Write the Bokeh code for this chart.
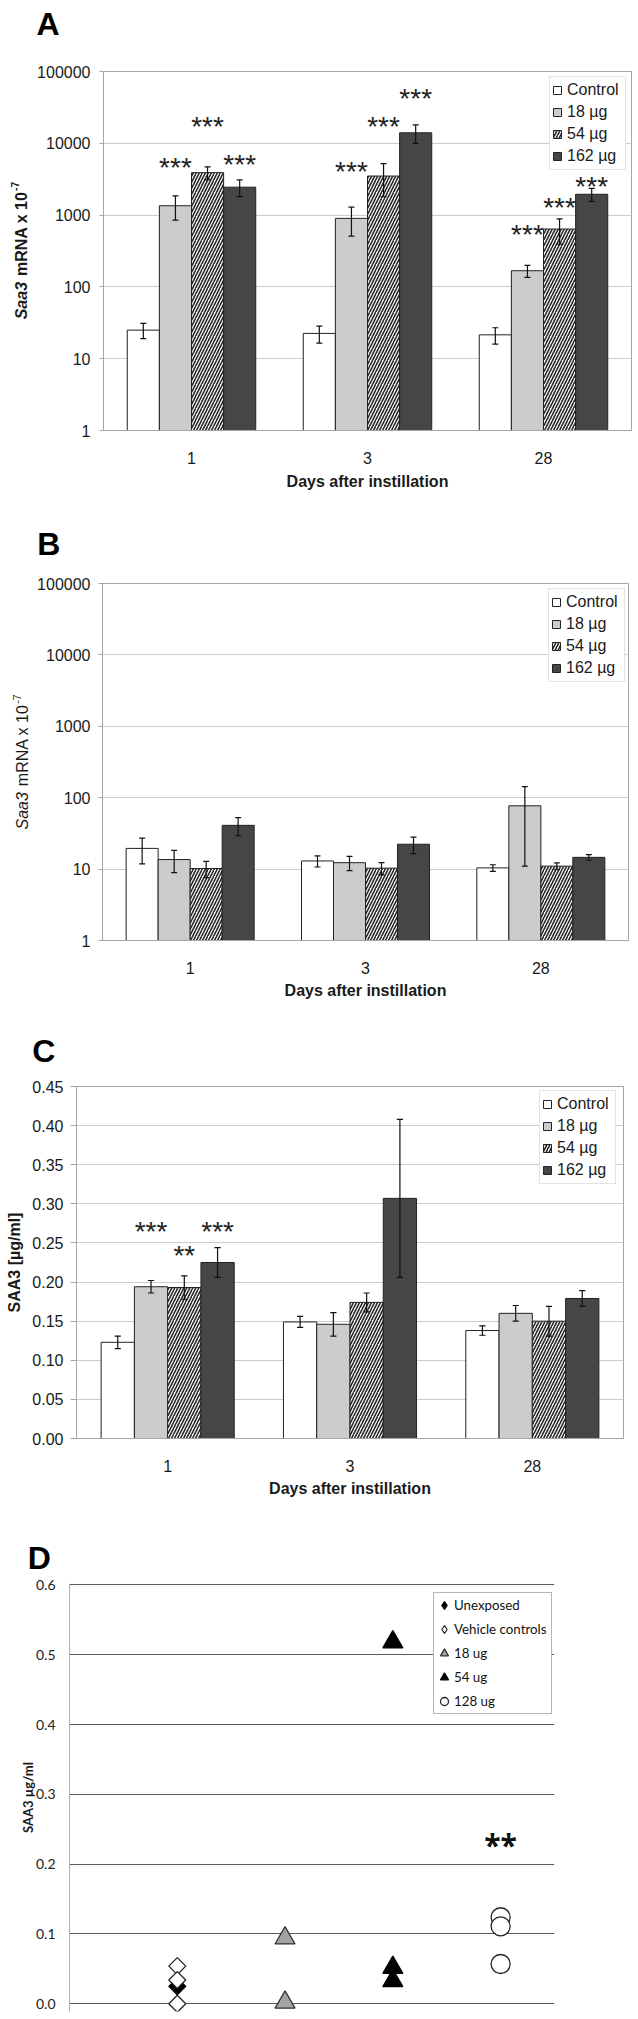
import math
from bokeh.plotting import figure
from bokeh.models import (ColumnDataSource, FactorRange, Range1d, FixedTicker,
                          NumeralTickFormatter, Legend, LegendItem, Label)
from bokeh.transform import dodge
from bokeh.layouts import column, row
from bokeh.core.properties import value
from bokeh.embed import file_html
from bokeh.resources import INLINE

# ---------------- data ----------------
days = ["1", "3", "28"]
groups = ["Control", "18 µg", "54 µg", "162 µg"]

# Panel A : Saa3 mRNA x 10^-7 (log scale)
a_control = [25, 22.5, 21.5]
a_18 = [1350, 900, 168]
a_54 = [3900, 3500, 640]
a_162 = [2450, 14000, 1950]
a_control_err = [6, 6, 5.5]
a_18_err = [500, 390, 32]
a_54_err = [800, 1700, 245]
a_162_err = [640, 4000, 400]
a_sig_day = ["1", "1", "1", "3", "3", "3", "28", "28", "28"]
a_sig_group = ["18 µg", "54 µg", "162 µg"] * 3
a_sig_text = ["***"] * 9
a_sig_y = [4560, 16980, 5070, 4090, 17320, 42000, 537, 1265, 2530]

# Panel B : Saa3 mRNA x 10^-7 (log scale)
b_control = [19.5, 13, 10.4]
b_18 = [13.6, 12.3, 77]
b_54 = [10.2, 10.3, 11]
b_162 = [41, 22.3, 14.6]
b_control_err = [7.7, 2.3, 1.1]
b_18_err = [4.7, 2.8, 66]
b_54_err = [2.6, 2.0, 1.2]
b_162_err = [11.5, 5.8, 1.3]

# Panel C : SAA3 [µg/ml]
c_control = [0.123, 0.149, 0.138]
c_18 = [0.194, 0.146, 0.160]
c_54 = [0.193, 0.174, 0.150]
c_162 = [0.225, 0.307, 0.179]
c_control_err = [0.008, 0.007, 0.006]
c_18_err = [0.008, 0.015, 0.010]
c_54_err = [0.015, 0.012, 0.019]
c_162_err = [0.019, 0.101, 0.010]
c_sig_day = ["1", "1", "1"]
c_sig_group = ["18 µg", "54 µg", "162 µg"]
c_sig_text = ["***", "**", "***"]
c_sig_y = [0.264, 0.234, 0.264]

log_ticks = [1, 10, 100, 1000, 10000, 100000]
c_ticks = [0.00, 0.05, 0.10, 0.15, 0.20, 0.25, 0.30, 0.35, 0.40, 0.45]

# Panel D : SAA3 µg/ml, individual animals
d_series = ["Unexposed", "Vehicle controls", "18 ug", "54 ug", "128 ug"]
d_pos = [1, 1, 2, 3, 4]
d_unexposed = [0.025]
d_vehicle = [0.054, 0.034, 0.0]
d_18 = [0.094, 0.002]
d_54 = [0.518, 0.052, 0.033]
d_128 = [0.124, 0.111, 0.057]
d_sig_pos = [4]
d_sig_text = ["**"]
d_sig_y = [0.228]
d_ticks = [0.0, 0.1, 0.2, 0.3, 0.4, 0.5, 0.6]

# ---------------- style ----------------
FONT = "Liberation Sans"
DFONT = "Lato"
TXT = "#1a1a1a"
AX = "#a6a6a6"
GRID = "#cbcbcb"
BAR_W = 0.1825
OFFS = [(-1.5 + i) * BAR_W for i in range(4)]
CAP = 0.017
FILLS = ["#ffffff", "#cccccc", "#ffffff", "#464646"]

W_REG = {'S': .667, 'a': .556, '3': .556, ' ': .278, 'm': .833, 'R': .722, 'N': .722,
         'A': .667, 'x': .5, '1': .556, '0': .556, '-': .333, '7': .556}
W_BOLD = {'S': .667, 'a': .556, '3': .556, ' ': .278, 'm': .889, 'R': .722, 'N': .722,
          'A': .722, 'x': .556, '1': .556, '0': .556, '-': .333, '7': .556}


def text_w(t, size, bold):
    tab = W_BOLD if bold else W_REG
    return sum(tab.get(c, .556) for c in t) * size


def blank(w, h):
    f = figure(width=w, height=h, title=None, x_range=Range1d(0, 1), y_range=Range1d(0, 1),
               x_axis_location=None, y_axis_location=None, min_border=0,
               output_backend="svg", toolbar_location=None)
    f.outline_line_color = None
    f.grid.visible = False
    f.frame_align = False
    return f


def header(letter, h, x, y):
    f = blank(638, h)
    f.add_layout(Label(x=x, y=y, x_units="screen", y_units="screen", text=letter,
                       text_font=FONT, text_font_style="bold", text_font_size="32px",
                       text_color="#000000", text_align="left", text_baseline="alphabetic"))
    return f


def saa3_side(w, h, x, center, bold):
    f = blank(w, h)
    st = "bold" if bold else "normal"
    # (text, style, size, shift across, gap after)
    parts = [("Saa3", ("bold italic" if bold else "italic"), 16, 0, 6),
             ("mRNA x 10", st, 16, 0, 0.5),
             ("-7", st, 10.5, -6, 0)]
    widths = [text_w(t, s, bold) + gap for t, _, s, _, gap in parts]
    y = center - sum(widths) / 2
    for (t, style, s, shift, _), wd in zip(parts, widths):
        f.add_layout(Label(x=x + shift, y=y, x_units="screen", y_units="screen", text=t,
                           angle=math.pi / 2, text_align="left", text_baseline="middle",
                           text_font=FONT, text_font_style=style, text_font_size=f"{s}px",
                           text_color=TXT))
        y += wd
    return f


def bar_panel(w, h, border, means, errs, y_type, y_rng, y_ticks, fmt, tick_out, lbl_standoff,
              leg_loc, x_title_standoff, sig=None):
    p = figure(width=w, height=h, title=None, x_range=FactorRange(factors=days),
               y_range=Range1d(*y_rng), y_axis_type=y_type,
               output_backend="svg", toolbar_location=None)
    p.frame_align = False
    p.min_border_left, p.min_border_right, p.min_border_top, p.min_border_bottom = border
    p.background_fill_color = "white"
    p.border_fill_color = "white"
    p.outline_line_color = AX
    p.xgrid.grid_line_color = None
    p.ygrid.grid_line_color = GRID
    p.ygrid.grid_line_width = 1

    items = []
    for g in range(4):
        up = [m + e for m, e in zip(means[g], errs[g])]
        lo = [m - e for m, e in zip(means[g], errs[g])]
        src = ColumnDataSource(dict(day=days, top=means[g], upper=up, lower=lo))
        extra = {}
        if g == 2:
            extra = dict(hatch_pattern="/", hatch_color="#262626", hatch_scale=6,
                         hatch_weight=1.6)
        r = p.vbar(x=dodge("day", OFFS[g], range=p.x_range), top="top", bottom=y_rng[0],
                   width=BAR_W, source=src, fill_color=FILLS[g], line_color="#222222",
                   line_width=1, **extra)
        p.segment(x0=dodge("day", OFFS[g], range=p.x_range), y0="lower",
                  x1=dodge("day", OFFS[g], range=p.x_range), y1="upper",
                  source=src, line_color="#111111", line_width=1.2)
        for end in ("upper", "lower"):
            p.segment(x0=dodge("day", OFFS[g] - CAP, range=p.x_range), y0=end,
                      x1=dodge("day", OFFS[g] + CAP, range=p.x_range), y1=end,
                      source=src, line_color="#111111", line_width=1.2)
        items.append(LegendItem(label=groups[g], renderers=[r]))

    if sig is not None:
        s_day, s_group, s_text, s_y = sig
        for g in range(4):
            idx = [i for i, gg in enumerate(s_group) if gg == groups[g]]
            if not idx:
                continue
            ss = ColumnDataSource(dict(day=[s_day[i] for i in idx], y=[s_y[i] for i in idx],
                                       t=[s_text[i] for i in idx]))
            p.text(x=dodge("day", OFFS[g], range=p.x_range), y="y", text="t", source=ss,
                   text_font=value(FONT), text_font_size="28px", text_align="center",
                   text_baseline="alphabetic", text_color="#222222")

    leg = Legend(items=items, location=leg_loc, orientation="vertical",
                 label_text_font=FONT, label_text_font_size="16px", label_text_color=TXT,
                 label_height=22, label_width=56, glyph_width=10, glyph_height=10,
                 label_standoff=5, padding=2, spacing=0, margin=0,
                 border_line_color="#c8c8c8", border_line_width=1,
                 background_fill_color="white", background_fill_alpha=1)
    p.add_layout(leg)

    ya = p.yaxis[0]
    ya.ticker = FixedTicker(ticks=y_ticks)
    ya.formatter = NumeralTickFormatter(format=fmt)
    ya.major_tick_out = tick_out
    ya.major_tick_in = 0
    ya.minor_tick_line_color = None
    ya.major_tick_line_color = AX
    ya.axis_line_color = AX
    ya.major_label_standoff = lbl_standoff
    ya.major_label_text_font = FONT
    ya.major_label_text_font_size = "16px"
    ya.major_label_text_color = TXT

    xa = p.xaxis[0]
    xa.major_tick_line_color = None
    xa.axis_line_color = AX
    xa.major_label_standoff = 15
    xa.major_label_text_font = FONT
    xa.major_label_text_font_size = "16px"
    xa.major_label_text_color = TXT
    xa.axis_label = "Days after instillation"
    xa.axis_label_text_font = FONT
    xa.axis_label_text_font_size = "16px"
    xa.axis_label_text_font_style = "bold"
    xa.axis_label_text_color = TXT
    xa.axis_label_standoff = x_title_standoff
    return p


# ---------------- Panel A ----------------
hA = header("A", 48, 36, 25)
sA = saa3_side(34, 472, 20.5, 270, True)
pA = bar_panel(604, 472, (66, 7, 23, 90),
               [a_control, a_18, a_54, a_162], [a_control_err, a_18_err, a_54_err, a_162_err],
               "log", (1, 100000), log_ticks, "0", 4, 9, (446, 260), 6,
               sig=(a_sig_day, a_sig_group, a_sig_text, a_sig_y))

# ---------------- Panel B ----------------
hB = header("B", 44, 36.7, 21)
sB = saa3_side(34, 466, 22, 268.5, False)
pB = bar_panel(604, 466, (67, 10, 19, 90),
               [b_control, b_18, b_54, b_162], [b_control_err, b_18_err, b_54_err, b_162_err],
               "log", (1, 100000), log_ticks, "0", 4, 8, (446, 258), 5)

# ---------------- Panel C ----------------
hC = header("C", 44, 31.7, 23.5)
pC = bar_panel(638, 446, (76, 15, 12, 82),
               [c_control, c_18, c_54, c_162], [c_control_err, c_18_err, c_54_err, c_162_err],
               "linear", (0, 0.45), c_ticks, "0.00", 6, 7, (463, 254), 5,
               sig=(c_sig_day, c_sig_group, c_sig_text, c_sig_y))
pC.yaxis.axis_label = "SAA3 [µg/ml]"
pC.yaxis.axis_label_text_font = FONT
pC.yaxis.axis_label_text_font_style = "bold"
pC.yaxis.axis_label_text_font_size = "16px"
pC.yaxis.axis_label_text_color = TXT
pC.yaxis.axis_label_standoff = 6

# ---------------- Panel D ----------------
hD = header("D", 54, 27.2, 17)
pD = figure(width=638, height=441, title=None, x_range=Range1d(0, 4.5),
            y_range=Range1d(-0.011, 0.602), x_axis_location=None,
            output_backend="svg", toolbar_location=None)
pD.frame_align = False
pD.min_border_left, pD.min_border_right, pD.min_border_top, pD.min_border_bottom = (69, 84, 9, 4)
pD.outline_line_color = None
pD.xgrid.grid_line_color = None
pD.ygrid.grid_line_color = "#5a5a5a"
pD.ygrid.grid_line_width = 1.2
yd = pD.yaxis[0]
yd.ticker = FixedTicker(ticks=d_ticks)
yd.formatter = NumeralTickFormatter(format="0.0")
yd.major_tick_line_color = None
yd.minor_tick_line_color = None
yd.major_tick_out = 0
yd.major_tick_in = 0
yd.axis_line_color = "#b4b4b4"
yd.major_label_standoff = 14
yd.major_label_text_font = DFONT
yd.major_label_text_font_size = "14px"
yd.major_label_text_color = "#222222"
yd.axis_label = "SAA3 µg/ml"
yd.axis_label_text_font = DFONT
yd.axis_label_text_font_style = "bold"
yd.axis_label_text_font_size = "13px"
yd.axis_label_text_color = TXT
yd.axis_label_standoff = -3

d_vals = [d_unexposed, d_vehicle, d_18, d_54, d_128]
d_style = [
    dict(marker="square", angle=math.pi / 4, size=12, fill_color="#000000", line_color="#000000"),
    dict(marker="square", angle=math.pi / 4, size=12, fill_color="#ffffff", line_color="#222222"),
    dict(marker="triangle", size=20, fill_color="#a3a3a3", line_color="#333333"),
    dict(marker="triangle", size=20, fill_color="#000000", line_color="#000000"),
    dict(marker="circle", size=19, fill_color="#ffffff", line_color="#222222"),
]
# upright diamond swatches for the key (hidden renderers on the same data)
d_key = [
    dict(marker="diamond", fill_color="#000000", line_color="#000000"),
    dict(marker="diamond", fill_color="#ffffff", line_color="#222222"),
    None, None, None,
]
d_items = []
for name, pos, vals, st, key in zip(d_series, d_pos, d_vals, d_style, d_key):
    src = ColumnDataSource(dict(x=[pos] * len(vals), y=vals))
    r = pD.scatter(x="x", y="y", source=src, line_width=1.3, **st)
    if key is not None:
        kr = pD.scatter(x="x", y="y", source=src, line_width=1.2, size=12, visible=False, **key)
        d_items.append(LegendItem(label=name, renderers=[kr]))
    else:
        d_items.append(LegendItem(label=name, renderers=[r]))

pD.text(x=d_sig_pos, y=d_sig_y, text=d_sig_text, text_font=value("Open Sans"),
        text_font_style="bold", text_font_size="30px", text_align="center",
        text_baseline="alphabetic", text_color="#111111")

legD = Legend(items=d_items, location=(364, 297), orientation="vertical",
              label_text_font=DFONT, label_text_font_size="13.3px", label_text_color="#111111",
              label_height=24, label_width=97, glyph_width=20, glyph_height=24,
              label_standoff=0, padding=0, spacing=0, margin=0,
              border_line_color="#6e6e6e", border_line_width=1.3,
              background_fill_color="white", background_fill_alpha=1,
              inactive_fill_alpha=0)
pD.add_layout(legD)

layout = column(hA, row(sA, pA), hB, row(sB, pB), hC, pC, hD, pD)
open("out.html", "w").write(file_html(layout, INLINE, "SAA3"))
